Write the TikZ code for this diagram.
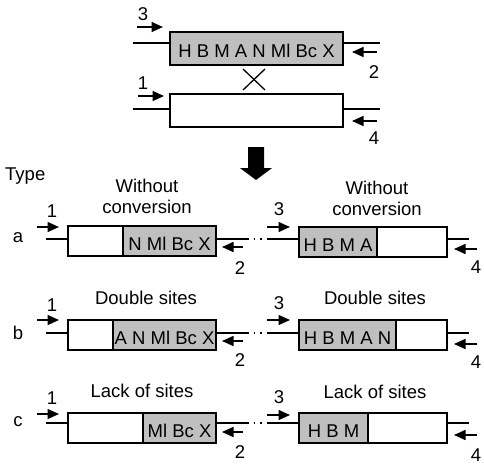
\documentclass[tikz,border=0pt]{standalone}
\usepackage{fontspec}
\setmainfont{Liberation Sans}
\usetikzlibrary{arrows.meta}

\tikzset{
  seg/.style={draw, line width=1.4pt, minimum height=30pt, inner sep=0pt, outer sep=0pt,
    text height=18.2pt, text depth=0pt},
  grayseg/.style={seg, fill=black!25},
  strand/.style={line width=1.4pt},
  primer/.style={line width=1.5pt, -{Triangle[length=11.5pt,width=10pt]}},
  lbl/.style={inner sep=0pt, text height=13.2pt, text depth=0pt},
  title/.style={inner sep=0pt, anchor=south, align=center},
}

\begin{document}
\begin{tikzpicture}[x=1pt,y=-1pt,font=\fontsize{18.5}{21.5}\selectfont]
  \useasboundingbox (0,0) rectangle (484,466);

  % parental strands
  \node[grayseg, minimum width=173pt, minimum height=33pt] (top) at (256.5,48.5) {H B M A N Ml Bc X};
  \node[seg, minimum width=173pt, minimum height=33pt] (bot) at (256.5,110.5) {};

  \coordinate (t0) at (133,43);
  \coordinate (t1) at (380,43);
  \coordinate (b0) at (133,109);
  \coordinate (b1) at (380,109);
  \draw[strand] (t0) -- (t0 -| top.west);
  \draw[strand] (top.east |- t1) -- (t1);
  \draw[strand] (b0) -- (b0 -| bot.west);
  \draw[strand] (bot.east |- b1) -- (b1);

  \draw[primer] (137,27) -- (163,27);
  \draw[primer] (377,52) -- (352,52);
  \draw[primer] (138,96) -- (164,96);
  \draw[primer] (377,121) -- (352,121);

  \begin{scope}[every node/.style={lbl}]
    \node (p3) at (143,14) {3};
    \node (p2) at (374,72) {2};
    \node (p1) at (143,83) {1};
    \node (p4) at (374,138) {4};
  \end{scope}

  % crossover
  \draw[line width=1.3pt] (243,69) -- (265,90);
  \draw[line width=1.3pt] (243,90) -- (265,69);

  % big arrow
  \fill (248,147) -- (264,147) -- (264,168) -- (272,168) -- (256,180)
        -- (240,168) -- (248,168) -- cycle;

  \node[lbl, anchor=west] (type) at (5,174) {Type};

  % products
  \begin{scope}[every node/.style={seg, minimum width=148pt}]
    \node (aL) at (142,241) {};
    \node (aR) at (373,242) {};
    \node (bL) at (142,335) {};
    \node (bR) at (373,335) {};
    \node (cL) at (142,428) {};
    \node (cR) at (373,428) {};
  \end{scope}

  \begin{scope}[every node/.style={grayseg}]
    \node[minimum width=93pt] (aLg) at (169.5,241) {N Ml Bc X};
    \node[minimum width=78pt] (aRg) at (338,242) {H B M A};
    \node[minimum width=103pt] (bLg) at (164.5,335) {A N Ml Bc X};
    \node[minimum width=97pt] (bRg) at (347.5,335) {H B M A N};
    \node[minimum width=73pt] (cLg) at (179.5,428) {Ml Bc X};
    \node[minimum width=69pt] (cRg) at (333.5,428) {H B M};
  \end{scope}

  \begin{scope}[every node/.style={title}]
    \node (aLt) at (147,214) {Without\\conversion};
    \node (aRt) at (377,216) {Without\\conversion};
    \node (bLt) at (146,305) {Double sites};
    \node (bRt) at (375,305) {Double sites};
    \node (cLt) at (142,398) {Lack of sites};
    \node (cRt) at (375,399) {Lack of sites};
  \end{scope}

  % strands of the products
  \coordinate (a0) at (46,239);   \coordinate (a1) at (247,239);
  \coordinate (a2) at (267,239);  \coordinate (a3) at (469,239);
  \coordinate (b0) at (46,333);   \coordinate (b1) at (247,333);
  \coordinate (b2) at (267,333);  \coordinate (b3) at (469,333);
  \coordinate (c0) at (46,423);   \coordinate (c1) at (247,423);
  \coordinate (c2) at (267,423);  \coordinate (c3) at (469,423);

  \draw[strand] (a0) -- (a0 -| aL.west);
  \draw[strand] (aL.east |- a1) -- (a1);
  \draw[strand, dash pattern=on 1.5pt off 5pt] (a1) -- (a2);
  \draw[strand] (a2) -- (a2 -| aR.west);
  \draw[strand] (aR.east |- a3) -- (a3);

  \draw[strand] (b0) -- (b0 -| bL.west);
  \draw[strand] (bL.east |- b1) -- (b1);
  \draw[strand, dash pattern=on 1.5pt off 5pt] (b1) -- (b2);
  \draw[strand] (b2) -- (b2 -| bR.west);
  \draw[strand] (bR.east |- b3) -- (b3);

  \draw[strand] (c0) -- (c0 -| cL.west);
  \draw[strand] (cL.east |- c1) -- (c1);
  \draw[strand, dash pattern=on 1.5pt off 5pt] (c1) -- (c2);
  \draw[strand] (c2) -- (c2 -| cR.west);
  \draw[strand] (cR.east |- c3) -- (c3);

  % primers
  \draw[primer] (37,227) -- (59,227);
  \draw[primer] (243,247) -- (222,247);
  \draw[primer] (267,227) -- (290,227);
  \draw[primer] (477,249) -- (454,249);

  \draw[primer] (37,320) -- (59,320);
  \draw[primer] (243,341) -- (222,341);
  \draw[primer] (267,320) -- (290,320);
  \draw[primer] (477,344) -- (454,344);

  \draw[primer] (37,414) -- (59,414);
  \draw[primer] (243,432) -- (222,432);
  \draw[primer] (267,415) -- (290,415);
  \draw[primer] (477,435) -- (454,435);

  \begin{scope}[every node/.style={lbl}]
    \node (a) at (18,236) {a};
    \node (b) at (18,333) {b};
    \node (c) at (18,420) {c};

    \node (a1n) at (52,211) {1};
    \node (a2n) at (240,268) {2};
    \node (a3n) at (279,209) {3};
    \node (a4n) at (476,267) {4};

    \node (b1n) at (52,305) {1};
    \node (b2n) at (240,360) {2};
    \node (b3n) at (279,303) {3};
    \node (b4n) at (476,362) {4};

    \node (c1n) at (52,398) {1};
    \node (c2n) at (240,452) {2};
    \node (c3n) at (279,397) {3};
    \node (c4n) at (476,455) {4};
  \end{scope}
\end{tikzpicture}
\end{document}
